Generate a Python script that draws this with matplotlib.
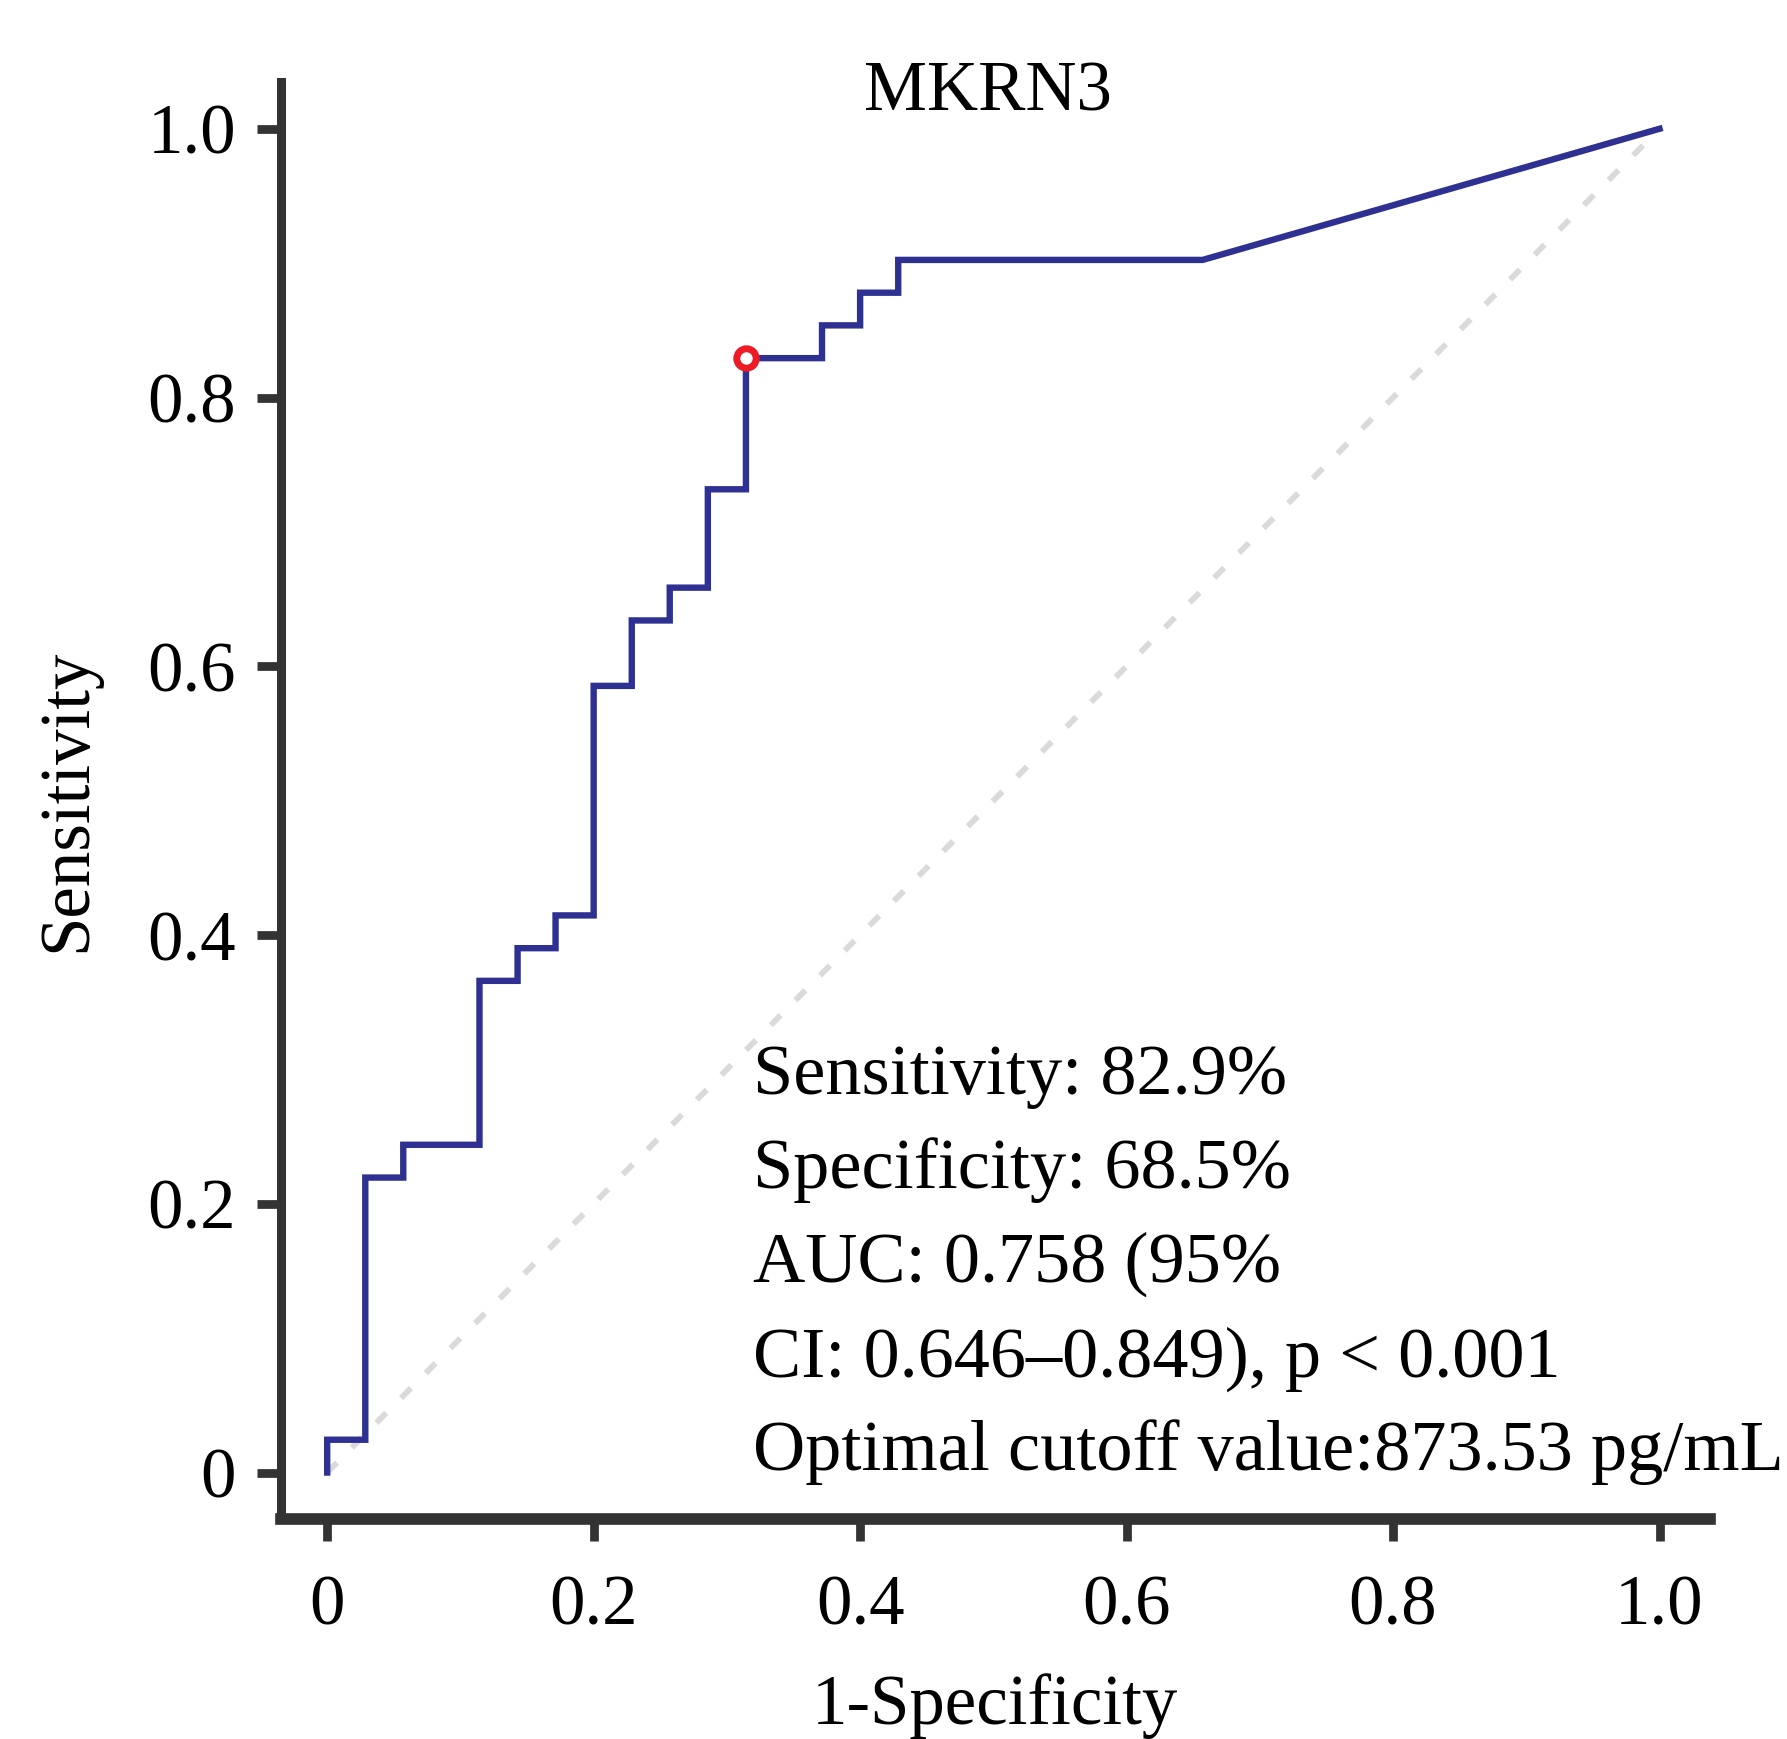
import matplotlib
matplotlib.use("Agg")
import matplotlib.pyplot as plt

# ROC curve points (1-specificity, sensitivity)
fpr = [0.0, 0.0, 0.0286, 0.0286, 0.0571, 0.0571, 0.1143, 0.1143, 0.1429, 0.1429,
       0.1714, 0.1714, 0.2, 0.2, 0.2286, 0.2286, 0.2571, 0.2571, 0.2857, 0.2857,
       0.3143, 0.3143, 0.3714, 0.3714, 0.4, 0.4, 0.4286, 0.4286, 0.6571, 1.0]
tpr = [0.0, 0.0244, 0.0244, 0.2195, 0.2195, 0.2439, 0.2439, 0.3659, 0.3659, 0.3902,
       0.3902, 0.4146, 0.4146, 0.5854, 0.5854, 0.6341, 0.6341, 0.6585, 0.6585, 0.7317,
       0.7317, 0.8293, 0.8293, 0.8537, 0.8537, 0.8780, 0.8780, 0.9024, 0.9024, 1.0]

# optimal cutoff point
best_fpr = 0.3143
best_tpr = 0.8293

ticks = [0, 0.2, 0.4, 0.6, 0.8, 1.0]
tick_labels = ["0", "0.2", "0.4", "0.6", "0.8", "1.0"]

info_lines = [
    "Sensitivity: 82.9%",
    "Specificity: 68.5%",
    "AUC: 0.758 (95%",
    "CI: 0.646\u20130.849), p < 0.001",
    "Optimal cutoff value:873.53 pg/mL",
]

plt.rcParams["font.family"] = ["Liberation Serif", "DejaVu Serif"]
fs = 51
dark = "#333333"

fig = plt.figure(figsize=(17.87, 17.39), dpi=100)
ax = fig.add_axes([0.157, 0.1265, 0.800, 0.8265])

# diagonal reference line
ax.plot([0, 1], [0, 1], color="#DADADA", lw=4.2, dashes=(2.4, 3.6), zorder=1)

# ROC curve
ax.plot(fpr, tpr, color="#2E3192", lw=4.6, zorder=2, solid_joinstyle="miter")
ax.plot(best_fpr, best_tpr, "o", ms=14, mfc="white", mec="#ED1C24", mew=5, zorder=3)

ax.set_xlim(-0.035, 1.038)
ax.set_ylim(-0.0346, 1.035)
ax.set_xticks(ticks)
ax.set_xticklabels(tick_labels)
ax.set_yticks(ticks)
ax.set_yticklabels(tick_labels)

for side in ["top", "right"]:
    ax.spines[side].set_visible(False)
ax.spines["left"].set_linewidth(6.5)
ax.spines["bottom"].set_linewidth(8.4)
for side in ["left", "bottom"]:
    ax.spines[side].set_color(dark)
    ax.spines[side].set_capstyle("projecting")

ax.tick_params(axis="both", direction="out", width=6.3, color=dark,
               labelsize=fs, labelcolor="black")
ax.tick_params(axis="x", length=16, pad=24)
ax.tick_params(axis="y", length=17, pad=15)

ax.set_xlabel("1-Specificity", fontsize=fs, labelpad=24)
ax.set_ylabel("Sensitivity", fontsize=fs, labelpad=34)
fig.text(0.553, 0.9365, "MKRN3", fontsize=fs, ha="center", va="baseline")

# statistics block
y0 = 0.2817
step = 0.0700
for i, line in enumerate(info_lines):
    ax.text(0.3195, y0 - i * step, line, fontsize=52, ha="left", va="baseline", zorder=4)

fig.savefig("out.png", dpi=100)
